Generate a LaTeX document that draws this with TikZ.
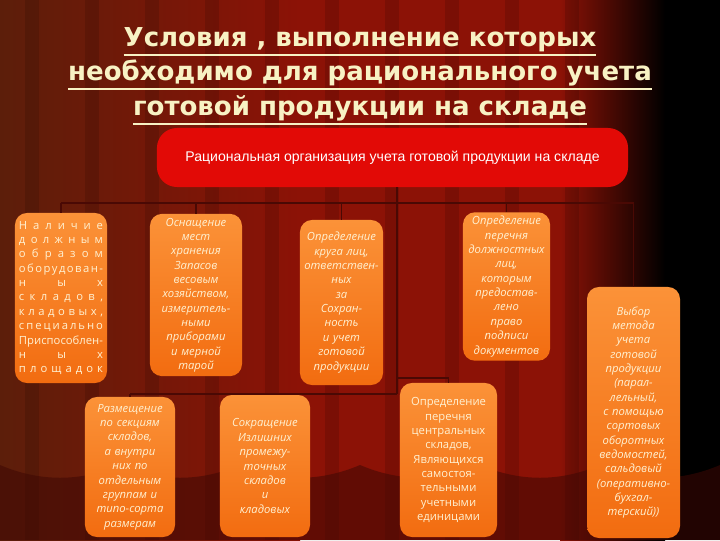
\documentclass[tikz,border=0pt]{standalone}
\usepackage{fontspec}
\newfontfamily\titlefont{DejaVu Sans}
\newfontfamily\headfont{Liberation Sans}
\newfontfamily\handfont{Open Sans}
\usetikzlibrary{positioning,calc}

\definecolor{titleCream}{HTML}{F8F2C4}
\definecolor{topRed}{HTML}{E20A06}
\definecolor{orangeTop}{HTML}{FB9238}
\definecolor{orangeBot}{HTML}{F26C10}
\definecolor{boxText}{HTML}{FFF1D2}
\definecolor{linkDark}{HTML}{4A0904}
\definecolor{curtainL}{HTML}{5C1E0A}
\definecolor{curtainM}{HTML}{8C1206}
\definecolor{curtainDark}{HTML}{3E0804}

% thick underline for the title
\newcommand\ttlUl[1]{\leavevmode\vtop{\hbox{#1}\kern1.5pt\hrule height1.3pt}}
% letters spread over the whole line
\newcommand\lsp[1]{\leavevmode\hbox to\hsize{\lspFirst#1\relax}}
\def\lspFirst#1{#1\lspNext}
\def\lspNext#1{\ifx#1\relax\else\hfil#1\expandafter\lspNext\fi}

\tikzset{x=0.025cm, y=-0.025cm,
		title/.style={align=center, text=titleCream,
		              font=\titlefont\bfseries\fontsize{18.5}{24.5}\selectfont},
		topBox/.style={rectangle, rounded corners=0.5cm, fill=topRed,
		               minimum width=11.775cm, minimum height=1.475cm,
		               text=white, font=\headfont\fontsize{10}{12}\selectfont},
		condBox/.style 2 args={rectangle, rounded corners=0.3cm,
		               top color=orangeTop, bottom color=orangeBot,
		               inner sep=0.1cm, align=center, text=boxText,
		               text width=#1, minimum height=#2,
		               font=\handfont\itshape\fontsize{8}{10.2}\selectfont},
		condBoxUp/.style 2 args={condBox={#1}{#2}, font=\handfont\fontsize{8}{10.2}\selectfont},
		link/.style={draw=linkDark, line width=1.2pt}}

\begin{document}
\begin{tikzpicture}
\useasboundingbox (0,0) rectangle (720,540);
%curtain
\fill[curtainDark] (0,0) rectangle (720,540);
\shade[left color=curtainL, right color=curtainM] (0,0) rectangle (300,540);
\fill[curtainM] (300,0) rectangle (560,540);
\shade[left color=curtainM, right color=black] (560,0) rectangle (665,540);
\fill[black] (665,0) rectangle (720,540);
\foreach \x in {25,85,...,565}
	\fill[black, opacity=.12] (\x,0) rectangle ++(14,540);
\fill[curtainDark, opacity=.55] (0,540) -- (0,465)
	\foreach \i in {0,...,5} { .. controls ({\i*120+40},482) and ({\i*120+80},482) .. ({\i*120+120},465) }
	-- (720,540) -- cycle;

\node[title] (title) at (360,76) {\ttlUl{Условия , выполнение которых}\\
	\ttlUl{необходимо для рационального учета}\\
	\ttlUl{готовой продукции на складе}};

\node[topBox] (top) at (392.5,157.5) {Рациональная организация учета готовой продукции на складе};

\node[condBoxUp={2.1cm}{4.25cm}] (b1) at (61,298) {\lsp{Наличие}\\ \lsp{должным}\\ \lsp{образом}\\
	\lsp{оборудован-}\\ \lsp{ных}\\ \lsp{складов,}\\ \lsp{кладовых,}\\ \lsp{специально}\\
	\lsp{Приспособлен-}\\ \lsp{ных}\\ \lsp{площадок}};
\node[condBox={2.1cm}{4.0cm}] (b2) at (196,295) {Оснащение\\ мест\\ хранения\\ Запасов\\ весовым\\
	хозяйством,\\ измеритель-\\ ными\\ приборами\\ и мерной\\ тарой};
\node[condBox={1.875cm}{4.125cm}] (b3) at (341.5,302.5) {Определение\\ круга лиц,\\ ответствен-\\ ных\\ за\\
	Сохран-\\ ность\\ и учет\\ готовой\\ продукции};
\node[condBox={1.975cm}{3.675cm}] (b4) at (506.5,286.5) {Определение\\ перечня\\ должностных\\ лиц,\\
	которым\\ предостав-\\ лено\\ право\\ подписи\\ документов};
\node[condBox={2.125cm}{6.275cm}] (b5) at (633.5,412.5) {Выбор\\ метода\\ учета\\ готовой\\ продукции\\
	(парал-\\ лельный,\\ с помощью\\ сортовых\\ оборотных\\ ведомостей,\\ сальдовый\\
	(оперативно-\\ бухгал-\\ терский))};
\node[condBox={2.05cm}{3.5cm}] (b6) at (130,467) {Размещение\\ по секциям\\ складов,\\ а внутри\\ них по\\
	отдельным\\ группам и\\ типо-сорта\\ размерам};
\node[condBox={2.05cm}{3.55cm}] (b7) at (265,466) {Сокращение\\ Излишних\\ промежу-\\ точных\\ складов\\
	и\\ кладовых};
\node[condBoxUp={2.225cm}{3.85cm}] (b8) at (448.5,460) {Определение\\ перечня\\ центральных\\ складов,\\
	Являющихся\\ самостоя-\\ тельными\\ учетными\\ единицами};

%edges
\coordinate (upBus) at (0,203);
\coordinate (lowBus) at (0,394);
\coordinate (sideBus) at (0,378);
\coordinate (trunk) at (397,0);
\draw[link] (trunk |- top.south) -- (trunk |- lowBus);
\draw[link] (b1.north |- upBus) -- (b5.north |- upBus);
\foreach \b in {b1,b2,b3,b4,b5}
	\draw[link] (\b.north |- upBus) -- (\b.north);
\draw[link] (b6.north |- lowBus) -- (trunk |- lowBus);
\draw[link] (trunk |- sideBus) -- (b8.north |- sideBus) -- (b8.north);
\foreach \b in {b6,b7}
	\draw[link] (\b.north |- lowBus) -- (\b.north);
\end{tikzpicture}
\end{document}
